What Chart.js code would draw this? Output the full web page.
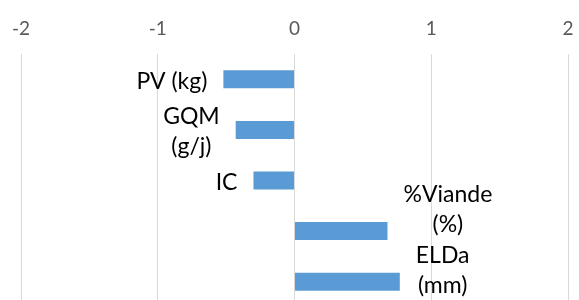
<!DOCTYPE html>
<html>
<head>
<meta charset="utf-8">
<script src="https://cdn.jsdelivr.net/npm/chart.js@4/dist/chart.umd.min.js"></script>
<style>
  html, body { margin: 0; padding: 0; background: #fff; overflow: hidden; }
  #wrap { width: 579px; height: 320px; }
</style>
</head>
<body>
<div id="wrap"><canvas id="chart" width="579" height="320"></canvas></div>
<script>
// categories (one entry per line of the label)
var categories = [['PV (kg)'], ['GQM', '(g/j)'], ['IC'], ['%Viande', '(%)'], ['ELDa', '(mm)']];
var values = [-0.52, -0.43, -0.30, 0.68, 0.77];
var tickValues = [-2, -1, 0, 1, 2];

// vertical nudge of each category label, px (Excel moved the last two up)
var labelShift = [2, 2, 2, -22, -11];

var labelFont = '23px Lato';

var categoryLabels = {
    id: 'categoryLabels',
    afterDatasetsDraw: function (chart) {
        var ctx = chart.ctx;
        var meta = chart.getDatasetMeta(0);
        ctx.save();
        ctx.font = labelFont;
        ctx.fillStyle = '#000';
        ctx.textAlign = 'center';
        ctx.textBaseline = 'middle';
        var lineH = 30;
        meta.data.forEach(function (bar, i) {
            var lines = categories[i];
            var w = 0;
            lines.forEach(function (l) { w = Math.max(w, ctx.measureText(l).width); });
            var cx = values[i] < 0 ? bar.x - 16 - w / 2 : bar.x + 16 + w / 2;
            var top = bar.y + labelShift[i] - (lines.length - 1) * lineH / 2;
            lines.forEach(function (l, k) {
                ctx.fillText(l, cx, top + k * lineH);
            });
        });
        ctx.restore();
    }
};

var ctx = document.getElementById('chart').getContext('2d');
new Chart(ctx, {
    type: 'bar',
    data: {
        labels: categories,
        datasets: [{
            data: values,
            backgroundColor: '#5B9BD5',
            borderWidth: 0,
            barPercentage: 0.356,
            categoryPercentage: 1
        }]
    },
    options: {
        indexAxis: 'y',
        responsive: false,
        animation: false,
        layout: { padding: { left: 21, right: 11, top: 10, bottom: 13 } },
        plugins: { legend: { display: false }, tooltip: { enabled: false } },
        scales: {
            x: {
                position: 'top',
                min: -2,
                max: 2,
                afterBuildTicks: function (axis) {
                    axis.ticks = tickValues.map(function (v) { return { value: v }; });
                },
                afterFit: function (axis) {
                    axis.height = 44;
                    axis.paddingLeft = 0;
                    axis.paddingRight = 0;
                },
                grid: { color: '#d9d9d9', lineWidth: 1, drawTicks: false },
                border: { display: false },
                ticks: {
                    color: '#595959',
                    font: { family: 'Lato', size: 19 },
                    padding: 14,
                    maxRotation: 0
                }
            },
            y: {
                display: false,
                offset: true
            }
        }
    },
    plugins: [categoryLabels]
});
</script>
</body>
</html>
